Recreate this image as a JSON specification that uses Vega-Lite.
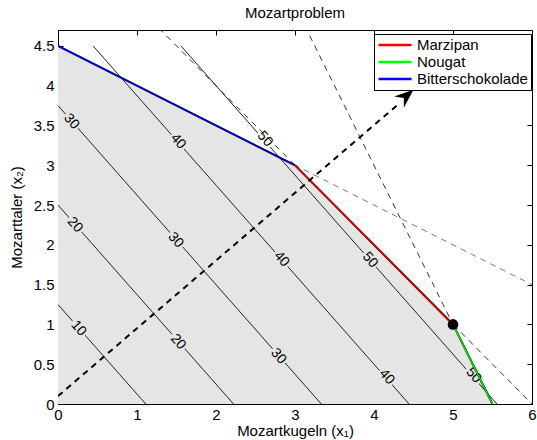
{
  "$schema": "https://vega.github.io/schema/vega-lite/v6.json",
  "width": 474,
  "height": 374,
  "autosize": {"type": "none"},
  "padding": {"left": 58, "top": 30, "right": 5, "bottom": 36},
  "background": "white",
  "title": {"text": "Mozartproblem", "fontSize": 15, "font": "Liberation Sans", "fontWeight": "normal", "color": "black", "offset": 9, "anchor": "middle"},
  "config": {
    "view": {"stroke": "black", "strokeWidth": 1},
    "axis": {
      "labelFont": "Liberation Sans", "labelFontSize": 15, "labelColor": "black",
      "titleFont": "Liberation Sans", "titleFontSize": 15, "titleColor": "black", "titleFontWeight": "normal",
      "domainColor": "black", "tickColor": "black", "tickSize": -5, "grid": false
    },
    "legend": {"labelFont": "Liberation Sans", "labelFontSize": 15, "labelColor": "black"}
  },
  "datasets": {
    "poly": [{"x": 0, "y": 4.5}, {"x": 3, "y": 3}, {"x": 5, "y": 1}, {"x": 5.5, "y": 0}],
    "contours": [
      {"level": 10, "x": 0, "y": 1.25}, {"level": 10, "x": 1.111, "y": 0},
      {"level": 20, "x": 0, "y": 2.5}, {"level": 20, "x": 2.222, "y": 0},
      {"level": 30, "x": 0, "y": 3.75}, {"level": 30, "x": 3.333, "y": 0},
      {"level": 40, "x": 0.444, "y": 4.5}, {"level": 40, "x": 4.444, "y": 0},
      {"level": 50, "x": 1.556, "y": 4.5}, {"level": 50, "x": 5.556, "y": 0}
    ],
    "labels": [
      {"label": "30", "x": 0.17, "y": 3.55, "region": "in"},
      {"label": "40", "x": 1.52, "y": 3.3, "region": "in"},
      {"label": "50", "x": 2.62, "y": 3.33, "region": "out"},
      {"label": "20", "x": 0.215, "y": 2.25, "region": "in"},
      {"label": "30", "x": 1.49, "y": 2.06, "region": "in"},
      {"label": "40", "x": 2.83, "y": 1.82, "region": "in"},
      {"label": "50", "x": 3.95, "y": 1.81, "region": "in"},
      {"label": "10", "x": 0.26, "y": 0.95, "region": "in"},
      {"label": "20", "x": 1.52, "y": 0.78, "region": "in"},
      {"label": "30", "x": 2.79, "y": 0.6, "region": "in"},
      {"label": "40", "x": 4.16, "y": 0.34, "region": "in"},
      {"label": "50", "x": 5.26, "y": 0.36, "region": "in"}
    ],
    "dashDark": [
      {"c": "a", "x": 0, "y": 6}, {"c": "a", "x": 6, "y": 0},
      {"c": "b", "x": 3, "y": 5}, {"c": "b", "x": 5.5, "y": 0}
    ],
    "dashGray": [{"x": 0, "y": 4.5}, {"x": 6, "y": 1.5}],
    "constraints": [
      {"name": "Bitterschokolade", "x": 0, "y": 4.5}, {"name": "Bitterschokolade", "x": 3, "y": 3},
      {"name": "Marzipan", "x": 3, "y": 3}, {"name": "Marzipan", "x": 5, "y": 1},
      {"name": "Nougat", "x": 5, "y": 1}, {"name": "Nougat", "x": 5.5, "y": 0}
    ],
    "arrow": [{"x": 0, "y": 0.1}, {"x": 4.3, "y": 3.76}],
    "arrowhead": [{"x": 4.5, "y": 3.95}],
    "optimum": [{"x": 5, "y": 1}]
  },
  "resolve": {"axis": {"x": "independent", "y": "independent"}},
  "layer": [
    {
      "data": {"name": "poly"},
      "mark": {"type": "area", "color": "#e5e5e5", "clip": true},
      "encoding": {
        "x": {"field": "x", "type": "quantitative", "scale": {"domain": [0, 6], "nice": false, "zero": false},
              "axis": {"orient": "bottom", "title": "Mozartkugeln (x₁)", "values": [0, 1, 2, 3, 4, 5, 6], "format": "~g", "labelPadding": 8, "titlePadding": 1, "labelFlush": false}},
        "y": {"field": "y", "type": "quantitative", "scale": {"domain": [0, 4.7], "nice": false, "zero": false},
              "axis": {"orient": "left", "title": "Mozarttaler (x₂)", "values": [0, 0.5, 1, 1.5, 2, 2.5, 3, 3.5, 4, 4.5], "format": "~g", "labelPadding": 9, "titlePadding": 9, "labelFlush": false}},
        "y2": {"datum": 0}
      }
    },
    {
      "data": {"name": "poly"},
      "mark": {"type": "point", "opacity": 0},
      "encoding": {
        "x": {"field": "x", "type": "quantitative", "axis": {"orient": "top", "labels": false, "title": null, "domain": false, "values": [0, 1, 2, 3, 4, 5, 6]}},
        "y": {"field": "y", "type": "quantitative", "axis": {"orient": "right", "labels": false, "title": null, "domain": false, "values": [0, 0.5, 1, 1.5, 2, 2.5, 3, 3.5, 4, 4.5]}}
      }
    },
    {
      "data": {"name": "contours"},
      "mark": {"type": "line", "color": "#222222", "strokeWidth": 1, "clip": true},
      "encoding": {
        "x": {"field": "x", "type": "quantitative", "axis": null},
        "y": {"field": "y", "type": "quantitative", "axis": null},
        "detail": {"field": "level"}
      }
    },
    {
      "data": {"name": "labels"},
      "mark": {"type": "point", "shape": "M-1,-0.55L1,-0.55L1,0.55L-1,0.55Z", "filled": true, "opacity": 1, "size": 361, "angle": 48.4, "strokeWidth": 0},
      "encoding": {
        "x": {"field": "x", "type": "quantitative", "axis": null},
        "y": {"field": "y", "type": "quantitative", "axis": null},
        "fill": {"field": "region", "type": "nominal", "scale": {"domain": ["in", "out"], "range": ["#e5e5e5", "#ffffff"]}, "legend": null}
      }
    },
    {
      "data": {"name": "labels"},
      "mark": {"type": "text", "angle": 48.4, "fontSize": 14, "font": "Liberation Sans", "color": "black", "align": "center", "baseline": "middle"},
      "encoding": {
        "x": {"field": "x", "type": "quantitative", "axis": null},
        "y": {"field": "y", "type": "quantitative", "axis": null},
        "text": {"field": "label"}
      }
    },
    {
      "data": {"name": "dashDark"},
      "mark": {"type": "line", "color": "#333333", "strokeWidth": 1, "strokeDash": [6, 5], "clip": true},
      "encoding": {
        "x": {"field": "x", "type": "quantitative", "axis": null},
        "y": {"field": "y", "type": "quantitative", "axis": null},
        "detail": {"field": "c"}
      }
    },
    {
      "data": {"name": "dashGray"},
      "mark": {"type": "line", "color": "#777777", "strokeWidth": 1, "strokeDash": [6, 5], "clip": true},
      "encoding": {
        "x": {"field": "x", "type": "quantitative", "axis": null},
        "y": {"field": "y", "type": "quantitative", "axis": null}
      }
    },
    {
      "data": {"name": "poly"},
      "mark": {"type": "line", "color": "black", "strokeWidth": 2, "clip": true},
      "encoding": {
        "x": {"field": "x", "type": "quantitative", "axis": null},
        "y": {"field": "y", "type": "quantitative", "axis": null}
      }
    },
    {
      "data": {"name": "constraints"},
      "mark": {"type": "line", "strokeWidth": 1.3, "clip": true},
      "encoding": {
        "x": {"field": "x", "type": "quantitative", "axis": null},
        "y": {"field": "y", "type": "quantitative", "axis": null},
        "color": {"field": "name", "type": "nominal",
                  "scale": {"domain": ["Marzipan", "Nougat", "Bitterschokolade"], "range": ["#ff0000", "#00ff00", "#0000ff"]},
                  "legend": {"title": null, "orient": "none", "legendX": 316, "legendY": 4, "strokeColor": "black", "fillColor": "white", "padding": 3,
                             "symbolType": "M-1,0L4.08,0", "symbolSize": 169, "symbolStrokeWidth": 2.5, "symbolFillColor": "transparent", "labelOffset": 24, "rowPadding": 1, "labelLimit": 300}}
      }
    },
    {
      "data": {"name": "arrow"},
      "mark": {"type": "line", "color": "black", "strokeWidth": 2, "strokeDash": [6, 5], "clip": true},
      "encoding": {
        "x": {"field": "x", "type": "quantitative", "axis": null},
        "y": {"field": "y", "type": "quantitative", "axis": null}
      }
    },
    {
      "data": {"name": "arrowhead"},
      "mark": {"type": "point", "shape": "M0,0L0.7,1.8L0,1.2L-0.7,1.8Z", "filled": true, "color": "black", "opacity": 1, "size": 450, "angle": 49.4},
      "encoding": {
        "x": {"field": "x", "type": "quantitative", "axis": null},
        "y": {"field": "y", "type": "quantitative", "axis": null}
      }
    },
    {
      "data": {"name": "optimum"},
      "mark": {"type": "circle", "color": "black", "opacity": 1, "size": 113},
      "encoding": {
        "x": {"field": "x", "type": "quantitative", "axis": null},
        "y": {"field": "y", "type": "quantitative", "axis": null}
      }
    }
  ]
}
